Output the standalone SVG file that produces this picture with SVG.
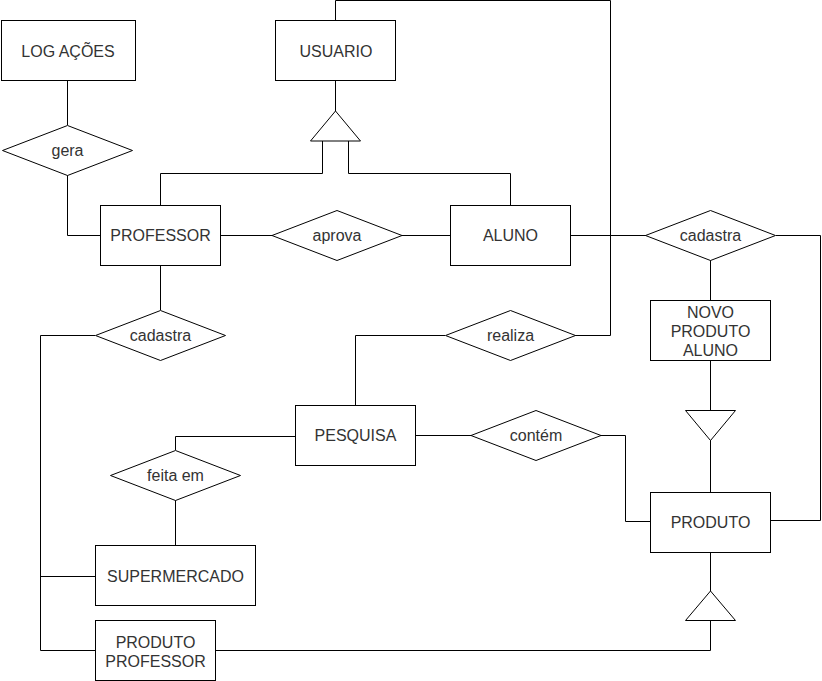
<svg xmlns="http://www.w3.org/2000/svg" width="822" height="681" viewBox="0 0 822 681">
<style>
.box{fill:#fff;stroke:#000;stroke-width:1}
.dia{fill:#fff;stroke:#000;stroke-width:1}
.tri{fill:#fff;stroke:#000;stroke-width:1}
.ln{fill:none;stroke:#000;stroke-width:1}
text{font-family:"Liberation Sans",Arial,sans-serif;font-size:16px;fill:#333;text-anchor:middle}
</style>
<rect width="822" height="681" fill="#fff"/>
<g id="connectors">
<path class="ln" d="M335.5,20 V0.5 H610.5 V335.5 H575"/>
<path class="ln" d="M335.5,80 V111"/>
<path class="ln" d="M322.5,141 V173.5 H160.5 V205"/>
<path class="ln" d="M348.5,141 V173.5 H510.5 V205"/>
<path class="ln" d="M67.5,80 V125"/>
<path class="ln" d="M67.5,175 V235.5 H100"/>
<path class="ln" d="M220,235.5 H272"/>
<path class="ln" d="M402,235.5 H450"/>
<path class="ln" d="M570,235.5 H646"/>
<path class="ln" d="M776,235.5 H820.5 V520.5 H770"/>
<path class="ln" d="M710.5,260 V300"/>
<path class="ln" d="M710.5,360 V410"/>
<path class="ln" d="M710.5,440 V492"/>
<path class="ln" d="M710.5,552 V591"/>
<path class="ln" d="M710.5,620 V650.5 H216"/>
<path class="ln" d="M415,435.5 H471"/>
<path class="ln" d="M601,435.5 H625.5 V521.5 H650"/>
<path class="ln" d="M445,335.5 H355.5 V405"/>
<path class="ln" d="M160.5,265 V310"/>
<path class="ln" d="M95,335.5 H40.5 V650.5 H96"/>
<path class="ln" d="M40.5,576.5 H96"/>
<path class="ln" d="M295,436.5 H175.5 V450"/>
<path class="ln" d="M175.5,500 V545"/>
</g>
<g id="log-acoes"><rect class="box" x="1.5" y="20.5" width="134" height="60"/><text x="68" y="57">LOG AÇÕES</text></g>
<g id="usuario"><rect class="box" x="275.5" y="20.5" width="120" height="60"/><text x="336" y="57">USUARIO</text></g>
<g id="heranca-usuario"><polygon class="tri" points="335.5,111 360.5,141 310.5,141"/></g>
<g id="gera"><polygon class="dia" points="67.5,125.5 132.5,150.5 67.5,175.5 2.5,150.5"/><text x="67.5" y="156">gera</text></g>
<g id="professor"><rect class="box" x="100.5" y="205.5" width="120" height="60"/><text x="160.5" y="241">PROFESSOR</text></g>
<g id="aprova"><polygon class="dia" points="337,210.5 402,235.5 337,260.5 272,235.5"/><text x="337" y="241">aprova</text></g>
<g id="aluno"><rect class="box" x="450.5" y="205.5" width="120" height="60"/><text x="510.5" y="241">ALUNO</text></g>
<g id="cadastra-aluno"><polygon class="dia" points="710.5,210.5 775.5,235.5 710.5,260.5 645.5,235.5"/><text x="710.5" y="241">cadastra</text></g>
<g id="novo-produto-aluno"><rect class="box" x="650.5" y="300.5" width="120" height="60"/><text x="710.5" y="318">NOVO</text><text x="710.5" y="337">PRODUTO</text><text x="710.5" y="356">ALUNO</text></g>
<g id="heranca-novo"><polygon class="tri" points="685.5,410.5 735.5,410.5 710.5,440.5"/></g>
<g id="cadastra-professor"><polygon class="dia" points="160.5,310.5 225.5,335.5 160.5,360.5 95.5,335.5"/><text x="160.5" y="341">cadastra</text></g>
<g id="realiza"><polygon class="dia" points="510.5,310.5 575.5,335.5 510.5,360.5 445.5,335.5"/><text x="510.5" y="341">realiza</text></g>
<g id="pesquisa"><rect class="box" x="295.5" y="405.5" width="120" height="60"/><text x="355.5" y="441">PESQUISA</text></g>
<g id="contem"><polygon class="dia" points="536,410.5 601,435.5 536,460.5 471,435.5"/><text x="536" y="441">contém</text></g>
<g id="feita-em"><polygon class="dia" points="175.5,450.5 240.5,475.5 175.5,500.5 110.5,475.5"/><text x="175.5" y="481">feita em</text></g>
<g id="produto"><rect class="box" x="650.5" y="492.5" width="120" height="60"/><text x="710.5" y="528">PRODUTO</text></g>
<g id="heranca-produto"><polygon class="tri" points="710.5,591 735.5,620.5 685.5,620.5"/></g>
<g id="supermercado"><rect class="box" x="95.5" y="545.5" width="160" height="60"/><text x="175.5" y="582">SUPERMERCADO</text></g>
<g id="produto-professor"><rect class="box" x="95.5" y="620.5" width="120" height="60"/><text x="155.5" y="647.5">PRODUTO</text><text x="155.5" y="666.5">PROFESSOR</text></g>
</svg>
